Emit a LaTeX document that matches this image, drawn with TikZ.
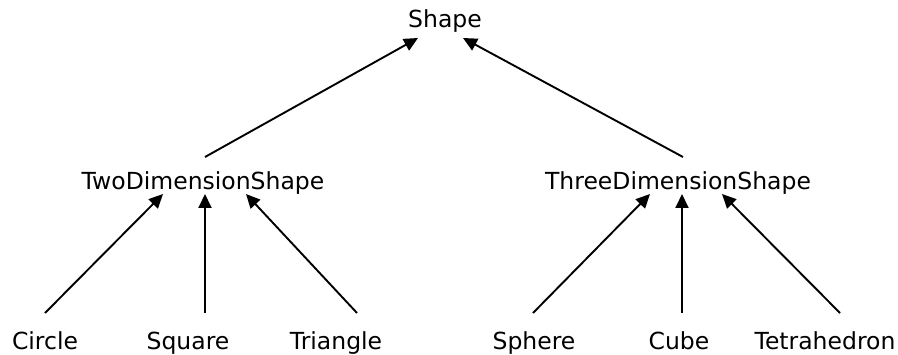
\documentclass[tikz,border=0pt]{standalone}
\usepackage{fontspec}
\setmainfont{DejaVu Sans}
\usetikzlibrary{arrows.meta,calc}
\begin{document}
\begin{tikzpicture}[x=1pt,y=1pt,
  lbl/.style={anchor=base,inner sep=0pt,font=\fontsize{23.5}{27}\selectfont},
  arr/.style={-{Triangle[length=14pt,width=13pt]},line width=1.9pt,black}]
\useasboundingbox (0,0) rectangle (898,354);
\node[lbl] (shape) at (445,326) {Shape};
\node[lbl] (two) at (203,164) {TwoDimensionShape};
\node[lbl] (three) at (678,164) {ThreeDimensionShape};
\node[lbl] (circle) at (45,5) {Circle};
\node[lbl] (square) at (188,5) {Square};
\node[lbl] (triangle) at (336,5) {Triangle};
\node[lbl] (sphere) at (534,5) {Sphere};
\node[lbl] (cube) at (679,5) {Cube};
\node[lbl] (tetra) at (825,5) {Tetrahedron};
\draw[arr] ($(two.base)+(2,33)$) -- ($(shape.base)+(-27,-10)$);
\draw[arr] ($(three.base)+(5,33)$) -- ($(shape.base)+(18,-10)$);
\draw[arr] ($(circle.base)+(0,36)$) -- ($(two.base)+(-40,-4)$);
\draw[arr] ($(square.base)+(17,36)$) -- ($(two.base)+(2,-4)$);
\draw[arr] ($(triangle.base)+(21,36)$) -- ($(two.base)+(43,-4)$);
\draw[arr] ($(sphere.base)+(-1,36)$) -- ($(three.base)+(-28,-4)$);
\draw[arr] ($(cube.base)+(3,36)$) -- ($(three.base)+(4,-4)$);
\draw[arr] ($(tetra.base)+(15,36)$) -- ($(three.base)+(44,-4)$);
\end{tikzpicture}
\end{document}
